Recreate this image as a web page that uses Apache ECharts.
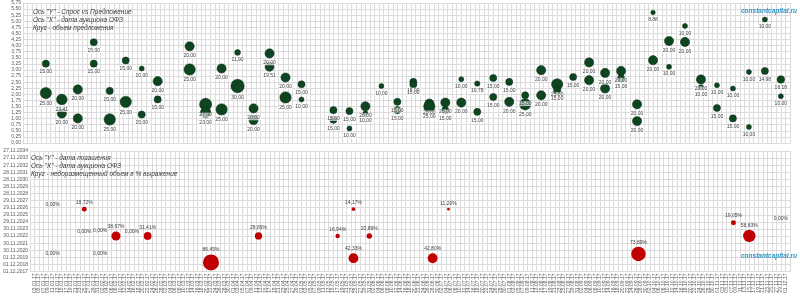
<!DOCTYPE html>
<html><head><meta charset="utf-8">
<script src="https://cdn.jsdelivr.net/npm/echarts@6/dist/echarts.min.js"></script>
<style>html,body{margin:0;padding:0;background:#fff}#c{width:800px;height:296px}</style>
</head><body><div id="c"></div>
<script>
// ---- Top chart: OFZ auctions 2017 (date, bid-to-cover ratio, offered volume, bln RUB)
const offerDates = [
 '11.01.2017','11.01.2017','18.01.2017','18.01.2017','25.01.2017','25.01.2017',
 '01.02.2017','01.02.2017','08.02.2017','08.02.2017','15.02.2017','15.02.2017',
 '22.02.2017','22.02.2017','01.03.2017','01.03.2017','15.03.2017','15.03.2017',
 '22.03.2017','22.03.2017','29.03.2017','29.03.2017','05.04.2017','05.04.2017',
 '12.04.2017','12.04.2017','19.04.2017','19.04.2017','26.04.2017','26.04.2017',
 '03.05.2017','03.05.2017','17.05.2017','17.05.2017','24.05.2017','24.05.2017',
 '31.05.2017','31.05.2017','07.06.2017','14.06.2017','14.06.2017',
 '21.06.2017','21.06.2017','28.06.2017','28.06.2017','05.07.2017','05.07.2017',
 '12.07.2017','12.07.2017','19.07.2017','19.07.2017','26.07.2017','26.07.2017',
 '02.08.2017','02.08.2017','09.08.2017','09.08.2017','16.08.2017','16.08.2017',
 '23.08.2017','23.08.2017','30.08.2017','06.09.2017','06.09.2017',
 '13.09.2017','13.09.2017','20.09.2017','20.09.2017','27.09.2017','27.09.2017',
 '04.10.2017','04.10.2017','11.10.2017','11.10.2017','18.10.2017','18.10.2017',
 '25.10.2017','25.10.2017','01.11.2017','01.11.2017','08.11.2017','08.11.2017',
 '15.11.2017','15.11.2017','22.11.2017','22.11.2017','29.11.2017','29.11.2017'
];
const bidCoverRatio = [
 3.26,2.05, 1.79,1.21, 2.20,1.01,
 4.14,3.26, 2.14,0.97, 3.39,1.69,
 3.06,1.17, 2.54,1.79, 3.97,3.02,
 1.59,1.25, 3.06,1.38, 3.72,2.34,
 1.42,0.94, 3.68,3.13, 2.69,1.87,
 2.41,1.79, 1.35,0.95, 1.31,0.60,
 1.51,1.22, 2.34, 1.69,1.35,
 2.51,2.40, 1.62,1.50, 1.66,1.35,
 2.62,1.66, 2.44,1.28, 2.67,1.89,
 2.51,1.69, 1.96,1.59, 2.99,1.96,
 2.41,2.15, 2.71, 3.31,2.58,
 2.88,2.24, 2.96,2.66, 1.59,0.90,
 5.36,3.40, 4.19,3.13, 4.81,4.15,
 2.61,2.29, 2.37,1.44, 2.24,1.01,
 2.92,0.66, 5.07,2.96, 2.61,1.92
];
const offerVolume = [
 15,25, 23.41,20, 20,20,
 15,15, 15,25, 15,25,
 10,15, 20,15, 20,25,
 27,23, 20,25, 11.90,30,
 20,20, 20,19.51, 20,25,
 15,10, 15,15, 15,10,
 20,10, 10, 15,15,
 15,15, 20,25, 20,15,
 10,20, 10.78,15, 15,15,
 15,20, 15,25, 20,20,
 25,15, 15, 20,20,
 20,20, 20,15, 20,20,
 8.88,20, 20,10, 10,20,
 20,10, 10,15, 10,15,
 10,10, 10,14.98, 16.18,10
];
// ---- Bottom chart: auction date, bond maturity date, unplaced share (%)
const unplacedDates = [
 '11.01.2017','11.01.2017','25.01.2017','25.01.2017','01.02.2017','01.02.2017',
 '08.02.2017','15.02.2017','22.02.2017','22.03.2017','12.04.2017','17.05.2017',
 '24.05.2017','24.05.2017','31.05.2017','28.06.2017','05.07.2017','27.09.2017',
 '08.11.2017','15.11.2017','29.11.2017'
];
const maturityDates = [
 '16.09.2026','16.10.2019','16.09.2026','07.12.2022','01.01.2023','16.10.2019',
 '07.12.2022','07.12.2022','07.12.2022','15.03.2019','07.12.2022','07.12.2022',
 '16.09.2026','16.10.2019','07.12.2022','16.10.2019','16.09.2026','27.05.2020',
 '16.10.2024','07.12.2022','16.10.2024'
];
const unplacedPct = [
 0,0,18.72,0,0,0,
 38.67,0,31.41,86.45,28.89,16.94,
 14.17,42.33,20.89,42.80,11.20,73.89,
 19.05,58.83,0
];
// axis settings
const xStartDate = '01.01.2017';   // x axis origin, ticks every 2 days
const yStartDate = '01.12.2017';   // maturity axis origin, ticks every 365 days

const DAY = 86400000;
function parseD(s){const p=s.split('.');return Date.UTC(+p[2],+p[1]-1,+p[0]);}
function fmt(ts, longYear){const d=new Date(ts);const dd=String(d.getUTCDate()).padStart(2,'0');const mm=String(d.getUTCMonth()+1).padStart(2,'0');const y=String(d.getUTCFullYear());return dd+'.'+mm+'.'+(longYear?y:y.slice(2));}
const x0 = parseD(xStartDate), y0 = parseD(yStartDate);
const toX = s => (parseD(s)-x0)/DAY;
const toY = s => (parseD(s)-y0)/DAY;
const comma = v => v.toFixed(2).replace('.', ',');

const topData = offerDates.map((d,i)=>[toX(d), bidCoverRatio[i], offerVolume[i]]);
const botData = unplacedDates.map((d,i)=>[toX(d), toY(maturityDates[i]), unplacedPct[i]]);

const gridColor = '#dcdcdc';
const lblColor = '#595959';
const FONT = 'Liberation Sans';
const xCommon = {type:'value', min:0, max:336, interval:2,
  axisLine:{show:true,lineStyle:{color:gridColor}}, axisTick:{show:false},
  splitLine:{show:true,lineStyle:{color:gridColor,width:1}}};
const note = (t,l,tp)=>({type:'text',left:l,top:tp,z:100,style:{text:t,font:'italic 6.5px "Liberation Sans"',fill:'#3a3a3a'}});
const mark = (tp)=>({type:'text',left:741,top:tp,z:100,style:{text:'constantcapital.ru',font:'italic bold 6.5px "Liberation Sans"',fill:'#2f95c4'}});

const chart = echarts.init(document.getElementById('c'), null, {renderer:'canvas'});
chart.setOption({
  animation:false,
  textStyle:{fontFamily:FONT},
  grid:[{left:23,right:10,top:3,height:140},{left:23,right:10,top:151,height:123}],
  xAxis:[
    Object.assign({gridIndex:0, axisLabel:{show:false}}, xCommon),
    Object.assign({gridIndex:1, axisLabel:{show:true, rotate:90, fontSize:5, margin:2, color:lblColor,
      formatter:v=>fmt(x0+v*DAY,false)}}, xCommon)
  ],
  yAxis:[
    {gridIndex:0,type:'value',min:0,max:5.75,interval:0.25,
     axisLine:{show:true,lineStyle:{color:gridColor}},axisTick:{show:false},
     splitLine:{lineStyle:{color:gridColor}},
     axisLabel:{fontSize:5,color:lblColor,margin:2,formatter:v=>comma(v)}},
    {gridIndex:1,type:'value',min:0,max:6205,interval:365,
     axisLine:{show:true,lineStyle:{color:gridColor}},axisTick:{show:false},
     splitLine:{lineStyle:{color:gridColor}},
     axisLabel:{fontSize:5,color:lblColor,margin:2,formatter:v=>fmt(y0+v*DAY,true)}}
  ],
  series:[
    {type:'scatter',xAxisIndex:0,yAxisIndex:0,data:topData,z:5,
     symbolSize:v=>0.42*v[2]+0.8,
     itemStyle:{color:'#0e4420',borderColor:'#082e14',borderWidth:0.5,opacity:1},
     label:{show:true,position:'bottom',distance:2,fontSize:5,color:'#404040',
       backgroundColor:'rgba(255,255,255,0.7)',padding:[0,1],
       formatter:p=>comma(p.value[2])}},
    {type:'scatter',xAxisIndex:1,yAxisIndex:1,data:botData,z:5,
     symbolSize:v=>Math.max(0,2.24*Math.sqrt(v[2])-4.8),
     itemStyle:{color:'#c00000',opacity:1},
     label:{show:true,position:'top',distance:2,fontSize:5,color:'#404040',
       formatter:p=>comma(p.value[2])+'%'}}
  ],
  graphic:[
    note('Ось "Y" - Спрос vs Предложение',33,9),
    note('Ось "X" - дата аукциона ОФЗ',33,17),
    note('Круг - объем предложения',33,25),
    note('Ось "Y" - дата погашения',31,155),
    note('Ось "X" - дата аукциона ОФЗ',31,163),
    note('Круг - недоразмещенный объем в % выражение',31,171),
    mark(8), mark(253)
  ]
});
</script></body></html>
